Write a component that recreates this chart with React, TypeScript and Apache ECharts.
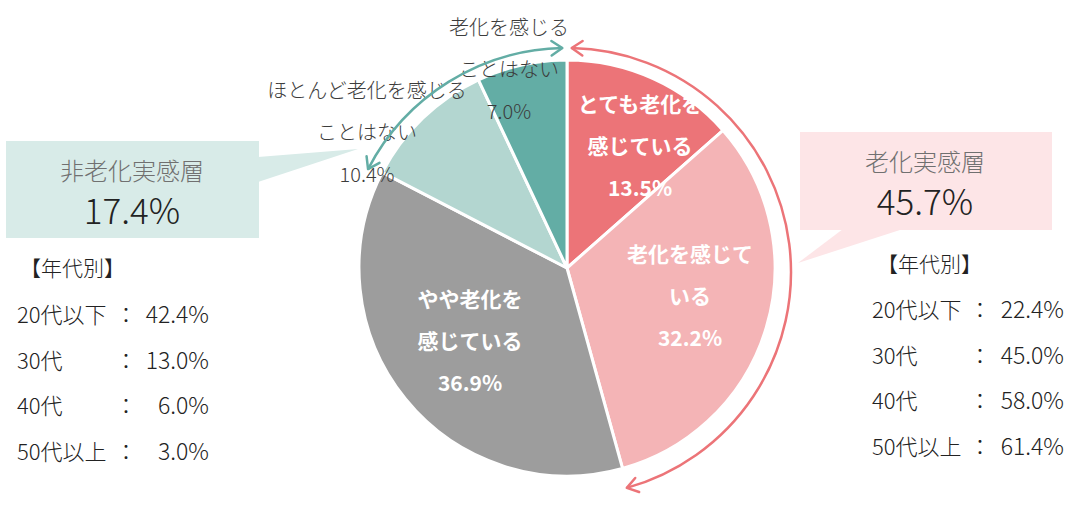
import React, { useEffect, useRef } from "react";
import * as echarts from "echarts";

// answers, clockwise from the top
const CATEGORIES = [
  "とても老化を感じている",
  "老化を感じている",
  "やや老化を感じている",
  "ほとんど老化を感じることはない",
  "老化を感じることはない",
];
const LABEL_TEXTS = [
  "とても老化を\n感じている",
  "老化を感じて\nいる",
  "やや老化を\n感じている",
  "ほとんど老化を感じる\nことはない",
  "老化を感じる\nことはない",
];
const VALUES = [13.5, 32.2, 36.9, 10.4, 7.0];
const COLORS = ["#EC7478", "#F4B4B6", "#9D9D9D", "#B3D6D0", "#63ADA5"];

// breakdown by age group
const AGE_GROUPS = ["20代以下", "30代", "40代", "50代以上"];
const AGING_BY_AGE = [22.4, 45.0, 58.0, 61.4];
const NON_AGING_BY_AGE = [42.4, 13.0, 6.0, 3.0];

const FONT = '"Noto Sans CJK JP", "Noto Sans", sans-serif';

// pie + arc geometry
const CX = 567;
const CY = 268;
const R = 208;
const ARC_CX = 567;
const ARC_CY = 272;
const ARC_R = 224;

// label anchor (center of each text block)
const LABEL_POS: [number, number][] = [
  [640, 145],
  [690, 295],
  [470, 340],
  [367, 131],
  [509, 68],
];

const rad = (thetaDeg: number) => ((thetaDeg - 90) * Math.PI) / 180;
const arcPoint = (theta: number): [number, number] => {
  const p = rad(theta);
  return [ARC_CX + ARC_R * Math.cos(p), ARC_CY + ARC_R * Math.sin(p)];
};

// arrowhead at angle theta; sign = +1 means pointing clockwise
const arrowHead = (theta: number, sign: number, color: string) => {
  const p = rad(theta);
  const tip = arcPoint(theta);
  const dx = -Math.sin(p) * sign;
  const dy = Math.cos(p) * sign;
  const L = 13;
  const a = (34 * Math.PI) / 180;
  const wing = (ang: number): [number, number] => {
    const rx = dx * Math.cos(ang) - dy * Math.sin(ang);
    const ry = dx * Math.sin(ang) + dy * Math.cos(ang);
    return [tip[0] - L * rx, tip[1] - L * ry];
  };
  return {
    type: "polyline",
    z: 100,
    shape: { points: [wing(a), tip, wing(-a)] },
    style: { stroke: color, lineWidth: 2.5, fill: null, lineCap: "round", lineJoin: "round" },
  };
};

// title + big percentage inside a bubble
const bubbleText = (x: number, y: number, title: string, value: number) => [
  {
    type: "text",
    x,
    y: y - 20,
    style: { text: title, font: `300 24px ${FONT}`, fill: "#707070", align: "center", verticalAlign: "middle" },
  },
  {
    type: "text",
    x,
    y: y + 19,
    style: {
      text: value.toFixed(1) + "%",
      font: `300 35px ${FONT}`,
      fill: "#222",
      align: "center",
      verticalAlign: "middle",
    },
  },
];

const ageList = (
  values: number[],
  nameX: number,
  colonX: number,
  valueX: number,
  headerX: number,
  headerY: number,
  firstY: number
) => {
  const els: any[] = [
    {
      type: "text",
      x: headerX,
      y: headerY,
      style: { text: "【年代別】", font: `300 21px ${FONT}`, fill: "#222", verticalAlign: "middle" },
    },
  ];
  values.forEach((v, i) => {
    const y = firstY + i * 45.7;
    els.push(
      {
        type: "text",
        x: nameX,
        y,
        style: { text: AGE_GROUPS[i], font: `300 22px ${FONT}`, fill: "#222", verticalAlign: "middle" },
      },
      {
        type: "text",
        x: colonX,
        y,
        style: { text: "：", font: `300 22px ${FONT}`, fill: "#222", align: "center", verticalAlign: "middle" },
      },
      {
        type: "text",
        x: valueX,
        y,
        style: {
          text: v.toFixed(1) + "%",
          font: `300 23px ${FONT}`,
          fill: "#222",
          align: "right",
          verticalAlign: "middle",
        },
      }
    );
  });
  return els;
};

const App: React.FC = () => {
  const chartRef = useRef<HTMLDivElement>(null);

  useEffect(() => {
    if (!chartRef.current) return;
    const chart = echarts.init(chartRef.current, null, { renderer: "svg" });

    const agingTotal = VALUES[0] + VALUES[1];
    const nonAgingTotal = VALUES[3] + VALUES[4];
    const total = VALUES.reduce((a, b) => a + b, 0);
    const redEnd = (agingTotal / total) * 360;
    const tealEnd = -(nonAgingTotal / total) * 360;
    const RED = "#EC7478";
    const TEAL = "#63ADA5";

    const option = {
      animation: false,
      series: [
        {
          type: "pie",
          center: [CX, CY],
          radius: [0, R],
          startAngle: 90,
          clockwise: true,
          z: 2,
          itemStyle: { borderColor: "#fff", borderWidth: 3 },
          labelLine: { show: false },
          emphasis: { disabled: true },
          labelLayout: (params: any) => {
            const p = LABEL_POS[params.dataIndex];
            return { x: p[0], y: p[1], align: "center", verticalAlign: "middle" };
          },
          data: VALUES.map((v, i) => {
            const outside = i >= 3;
            return {
              value: v,
              name: CATEGORIES[i],
              itemStyle: { color: COLORS[i] },
              label: {
                show: true,
                position: outside ? "outside" : "inside",
                formatter: () => `${LABEL_TEXTS[i]}\n${v.toFixed(1)}%`,
                color: outside ? "#3c3c3c" : "#fff",
                fontFamily: FONT,
                fontSize: outside ? 20 : 21,
                fontWeight: outside ? 300 : "bold",
                lineHeight: 42,
                align: "center",
              },
            };
          }),
        },
      ],
      graphic: [
        // left bubble (non-aging)
        { type: "rect", shape: { x: 6, y: 141, width: 253, height: 97 }, style: { fill: "#D8EBE8" } },
        {
          type: "polygon",
          shape: { points: [[258, 157], [358, 149], [258, 182]] },
          style: { fill: "#D8EBE8" },
        },
        ...bubbleText(132, 189, "非老化実感層", nonAgingTotal),
        // right bubble (aging)
        { type: "rect", shape: { x: 800, y: 132, width: 252, height: 98 }, style: { fill: "#FDE5E7" } },
        {
          type: "polygon",
          shape: { points: [[843, 229], [798, 263], [903, 229]] },
          style: { fill: "#FDE5E7" },
        },
        ...bubbleText(925, 180, "老化実感層", agingTotal),
        ...ageList(NON_AGING_BY_AGE, 17, 126, 209, 20, 267, 313),
        ...ageList(AGING_BY_AGE, 872, 980, 1064, 877, 263, 308),
        // arcs with arrowheads
        {
          type: "arc",
          z: 100,
          shape: { cx: ARC_CX, cy: ARC_CY, r: ARC_R, startAngle: rad(1.2), endAngle: rad(redEnd), clockwise: true },
          style: { stroke: RED, lineWidth: 2.5, fill: null },
        },
        arrowHead(1.2, -1, RED),
        arrowHead(redEnd, 1, RED),
        {
          type: "arc",
          z: 100,
          shape: { cx: ARC_CX, cy: ARC_CY, r: ARC_R, startAngle: rad(tealEnd), endAngle: rad(-1.2), clockwise: true },
          style: { stroke: TEAL, lineWidth: 2.5, fill: null },
        },
        arrowHead(-1.2, 1, TEAL),
        arrowHead(tealEnd, -1, TEAL),
      ],
    };

    chart.setOption(option as any);
    return () => {
      chart.dispose();
    };
  }, []);

  return (
    <div
      ref={chartRef}
      style={{ position: "absolute", left: 0, top: 0, width: 1085, height: 526, background: "#fff" }}
    />
  );
};

export default App;
